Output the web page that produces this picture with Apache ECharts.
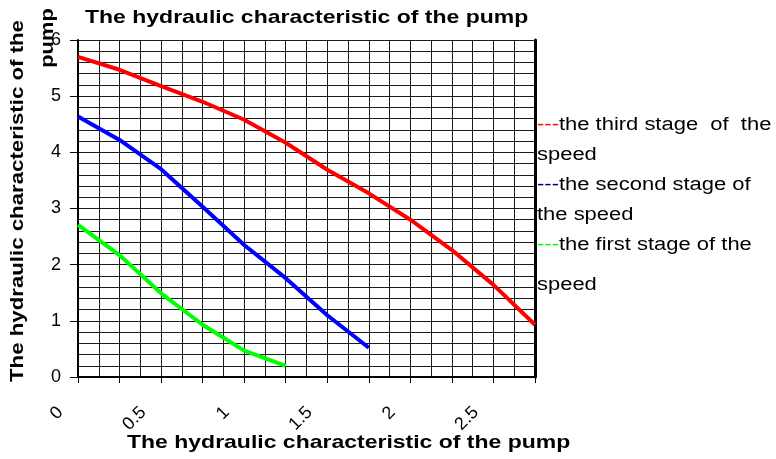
<!DOCTYPE html>
<html>
<head>
<meta charset="utf-8">
<script src="https://cdn.jsdelivr.net/npm/echarts@6/dist/echarts.min.js"></script>
<style>html,body{margin:0;padding:0;background:#fff}#c{width:776px;height:459px}</style>
</head>
<body>
<div id="c"></div>
<script>
var xValues = [0, 0.25, 0.5, 0.75, 1, 1.25, 1.5, 1.75, 2, 2.25, 2.5, 2.75];
var thirdStage = [5.70, 5.47, 5.18, 4.90, 4.58, 4.17, 3.69, 3.27, 2.80, 2.26, 1.64, 0.93];
var secondStage = [4.64, 4.22, 3.70, 3.03, 2.35, 1.76, 1.10, 0.52];
var firstStage = [2.71, 2.17, 1.49, 0.93, 0.47, 0.20];
var xTickLabels = ['0', '0.5', '1', '1.5', '2', '2.5'];
var titleText = 'The hydraulic characteristic of the pump';
var yNameLines = ['The hydraulic characteristic of the', 'pump'];
var legendLines = [
  ['---', 'the third stage  of  the', 'r'],
  ['', 'speed', ''],
  ['---', 'the second stage of', 'b'],
  ['', 'the speed', ''],
  ['---', 'the first stage of the', 'g'],
  ['', 'speed', '']
];

function pairs(vals) { return vals.map(function (v, i) { return [xValues[i], v]; }); }

var FONT = '"Liberation Sans", Arial, sans-serif';
var chart = echarts.init(document.getElementById('c'), null, { renderer: 'canvas' });

var legendY = [125, 155, 185, 215, 245, 285];
var BOLD = 'bold 19px ' + FONT;
var graphics = [
  { type: 'text', x: 85, y: 18, scaleX: 1.21, style: { text: titleText, font: BOLD, fill: '#000', verticalAlign: 'middle' } },
  { type: 'text', x: 127, y: 443, scaleX: 1.21, style: { text: titleText, font: BOLD, fill: '#000', verticalAlign: 'middle' } },
  { type: 'text', x: 18, y: 201, rotation: Math.PI / 2, scaleX: 1.17, style: { text: yNameLines[0], font: BOLD, fill: '#000', align: 'center', verticalAlign: 'middle' } },
  { type: 'text', x: 48, y: 38, rotation: Math.PI / 2, scaleX: 1.15, style: { text: yNameLines[1], font: BOLD, fill: '#000', align: 'center', verticalAlign: 'middle' } }
];
legendLines.forEach(function (l, i) {
  var txt = l[0] ? '{' + l[2] + '|' + l[0] + '}{t|' + l[1] + '}' : '{t|' + l[1] + '}';
  graphics.push({
    type: 'text', x: 537, y: legendY[i], scaleX: 1.22,
    style: {
      text: txt, verticalAlign: 'middle',
      rich: {
        r: { fill: '#ff0000', font: '18px ' + FONT },
        b: { fill: '#000080', font: '18px ' + FONT },
        g: { fill: '#00ff00', font: '18px ' + FONT },
        t: { fill: '#000', font: '18px ' + FONT }
      }
    }
  });
});

var option = {
  backgroundColor: '#fff',
  animation: false,
  grid: { left: 78, top: 40, right: 241, bottom: 82, outerBoundsMode: 'none', show: false },
  xAxis: {
    type: 'value', min: 0, max: 2.75, interval: 0.25,
    axisLine: { show: true, onZero: false, lineStyle: { color: '#000', width: 2 } },
    axisTick: { show: true, length: 6, lineStyle: { color: '#000', width: 1 } },
    axisLabel: {
      rotate: 45, margin: 15, color: '#000', fontSize: 18, fontFamily: FONT, padding: [0, 25, 0, 0],
      formatter: function (v) {
        var k = Math.round(v * 2);
        if (Math.abs(v * 2 - k) < 1e-6 && k < xTickLabels.length) return xTickLabels[k];
        return '';
      }
    },
    splitLine: { show: true, lineStyle: { color: '#1a1a1a', width: 1 } },
    minorTick: { show: false, splitNumber: 2 },
    minorSplitLine: { show: true, lineStyle: { color: '#1a1a1a', width: 1 } }
  },
  yAxis: [{
    type: 'value', min: 0, max: 6, interval: 1,
    axisLine: { show: true, onZero: false, lineStyle: { color: '#000', width: 2 } },
    axisTick: { show: true, length: 8, lineStyle: { color: '#000', width: 1 } },
    axisLabel: { margin: 17, color: '#000', fontSize: 18, fontFamily: FONT },
    splitLine: { show: true, lineStyle: { color: '#1a1a1a', width: 1 } },
    minorTick: { show: false, splitNumber: 5 },
    minorSplitLine: { show: true, lineStyle: { color: '#1a1a1a', width: 1 } }
  }, {
    type: 'value', min: 0, max: 6, interval: 1, position: 'right',
    axisLine: { show: true, onZero: false, lineStyle: { color: '#000', width: 3 } },
    axisTick: { show: false }, axisLabel: { show: false }, splitLine: { show: false }
  }],
  series: [
    { name: 'the third stage of the speed', type: 'line', data: pairs(thirdStage), showSymbol: false, lineStyle: { color: '#ff0000', width: 4 }, itemStyle: { color: '#ff0000' } },
    { name: 'the second stage of the speed', type: 'line', data: pairs(secondStage), showSymbol: false, lineStyle: { color: '#0000ff', width: 4 }, itemStyle: { color: '#0000ff' } },
    { name: 'the first stage of the speed', type: 'line', data: pairs(firstStage), showSymbol: false, lineStyle: { color: '#00ff00', width: 4 }, itemStyle: { color: '#00ff00' } }
  ],
  graphic: graphics
};
chart.setOption(option);
</script>
</body>
</html>
